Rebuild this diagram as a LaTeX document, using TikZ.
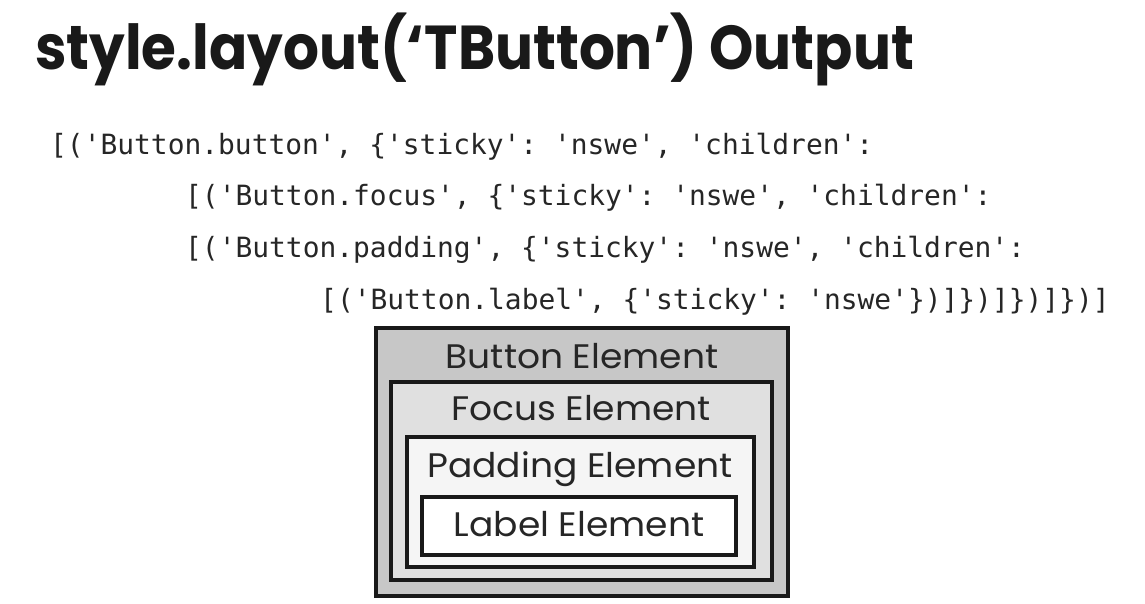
\documentclass[tikz,border=0pt]{standalone}
\usepackage{fontspec}
\setmainfont{Poppins}[Ligatures=NoCommon,FakeStretch=1.06]
\setmonofont{DejaVu Sans Mono}
\newfontfamily\titlefont{Poppins Bold}[Ligatures=NoCommon,FakeStretch=0.91]
\begin{document}
\begin{tikzpicture}[x=1pt,y=-1pt,
  codeline/.style={anchor=base west,inner sep=0pt,font=\ttfamily\fontsize{27.9}{30}\selectfont,text=black!85},
  elembox/.style={draw=black!90,line width=3.5pt,rectangle,inner sep=0pt},
  elemtext/.style={anchor=base,inner sep=0pt,font=\fontsize{34}{38}\selectfont,text=black!85}]
\useasboundingbox[fill=white] (0,0) rectangle (1145,604);
% heading
\node[anchor=base west,inner sep=0pt,font=\titlefont\fontsize{62}{66}\selectfont,text=black!90]
  (title) at (35,70) {style.layout(‘TButton’) Output};
% the layout returned for TButton
\node[codeline] (l1) at (50,155) {[('Button.button', \{'sticky': 'nswe', 'children':};
\node[codeline] (l2) at (185,205) {[('Button.focus', \{'sticky': 'nswe', 'children':};
\node[codeline] (l3) at (185,257) {[('Button.padding', \{'sticky': 'nswe', 'children':};
\node[codeline] (l4) at (320,309) {[('Button.label', \{'sticky': 'nswe'\})]\})]\})]\})]};
% nested element boxes
\node[elembox,fill=black!22,minimum width=412pt,minimum height=268pt] (button) at (582,462) {};
\node[elembox,fill=black!12,minimum width=381pt,minimum height=198pt] (focus) at (581.5,481) {};
\node[elembox,fill=black!4,minimum width=347pt,minimum height=130pt] (padding) at (580.5,502) {};
\node[elembox,fill=white,minimum width=314pt,minimum height=58pt] (label) at (579,526) {};
\node[elemtext] (buttontext) at (582,368) {Button Element};
\node[elemtext] (focustext) at (581,420) {Focus Element};
\node[elemtext] (paddingtext) at (580,477) {Padding Element};
\node[elemtext] (labeltext) at (579,536) {Label Element};
\end{tikzpicture}
\end{document}
